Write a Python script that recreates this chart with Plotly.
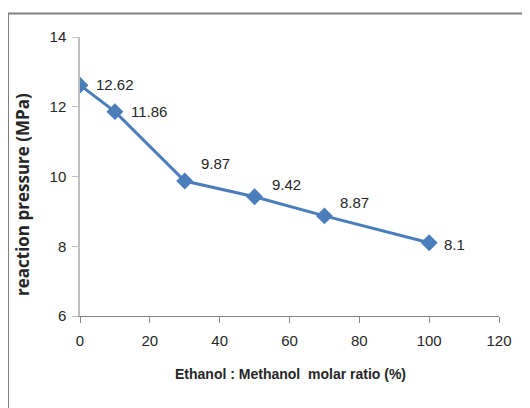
import plotly.graph_objects as go

ratio = [0, 10, 30, 50, 70, 100]
pressure = [12.62, 11.86, 9.87, 9.42, 8.87, 8.1]
labels = ["12.62", "11.86", "9.87", "9.42", "8.87", "8.1"]
x_ticks = [0, 20, 40, 60, 80, 100, 120]
y_ticks = [6, 8, 10, 12, 14]
x_title = "Ethanol : Methanol  molar ratio (%)"
y_title = "reaction pressure (MPa)"

# label offsets (pixels) relative to each point
offsets = [(14, 1), (14, 0), (14, 18), (15, 12), (14, 13), (13, -2)]

FONT = "Liberation Sans, Arial"
BLUE = "#4a7ebb"
TXT = "#262626"

# page has an 8px body margin; figure coordinates = page coordinates - 8
OFF = 8
W, H = 530 - OFF, 408 - OFF
L, T = 80 - OFF, 37 - OFF
R = W - (499 - OFF)
B = H - (316 - OFF)
pw, ph = W - L - R, H - T - B


def px(xpage):
    return (xpage - OFF - L) / pw


def py(ypage):
    return (H - B - (ypage - OFF)) / ph


fig = go.Figure()
fig.add_trace(go.Scatter(
    x=ratio, y=pressure, mode="lines+markers",
    line=dict(color=BLUE, width=3),
    marker=dict(symbol="diamond", size=13, color=BLUE),
    showlegend=False, hoverinfo="skip",
))

for xv, yv, lab, (dx, dy) in zip(ratio, pressure, labels, offsets):
    fig.add_annotation(x=xv, y=yv, text=lab, showarrow=False,
                       xanchor="left", yanchor="middle",
                       xshift=dx, yshift=dy,
                       font=dict(family=FONT, size=15, color=TXT))

# axis titles
fig.add_annotation(xref="paper", yref="paper", x=px(290), y=py(374),
                   text="<b>" + x_title + "</b>", showarrow=False,
                   xanchor="center", yanchor="middle",
                   font=dict(family=FONT, size=14, color=TXT))
fig.add_annotation(xref="paper", yref="paper", x=px(22), y=py(195),
                   text="<b>" + y_title + "</b>", showarrow=False, textangle=-90,
                   xanchor="center", yanchor="middle",
                   font=dict(family="Open Sans", size=17, color=TXT))

# outer chart frame
fig.add_shape(type="rect", xref="paper", yref="paper",
              x0=px(8), x1=1.3, y0=-0.6, y1=py(13.5),
              line=dict(color="#808080", width=2), fillcolor="rgba(0,0,0,0)",
              layer="below")

fig.update_layout(
    width=W, height=H,
    margin=dict(l=L, r=R, t=T, b=B),
    paper_bgcolor="white", plot_bgcolor="white",
    font=dict(family=FONT, size=15, color=TXT),
    xaxis=dict(range=[0, 120], tickvals=x_ticks, ticks="outside", ticklen=6,
               tickcolor="#868686", showline=True, linecolor="#868686", linewidth=1,
               showgrid=False, zeroline=False, ticklabelstandoff=5, automargin=False),
    yaxis=dict(range=[6, 14], tickvals=y_ticks, ticks="outside", ticklen=6,
               tickcolor="#bfbfbf", showline=True, linecolor="#bfbfbf", linewidth=1.5,
               showgrid=False, zeroline=False, ticklabelstandoff=3, automargin=False),
)

fig.write_html("out.html")
